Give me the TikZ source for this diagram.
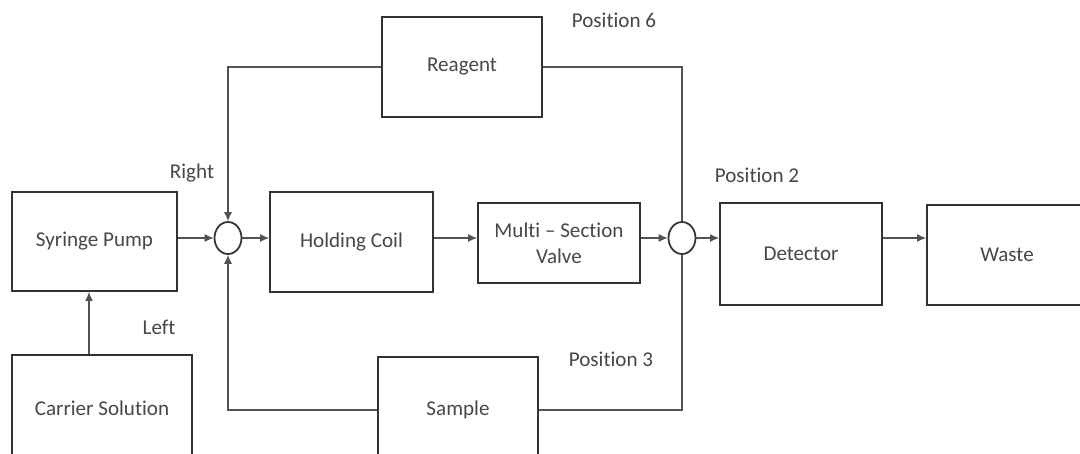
\documentclass[tikz,border=0pt]{standalone}
\usepackage{fontspec}
\setmainfont{Carlito}[Ligatures={NoCommon}]
\usetikzlibrary{arrows.meta,shapes.geometric,positioning}
\definecolor{linegray}{HTML}{333333}
\definecolor{textgray}{HTML}{474747}

\begin{document}
\begin{tikzpicture}[
    >={Latex[length=1.8mm,width=1.6mm]},
    box/.style={draw=linegray, line width=1.1pt, minimum width=3.2cm,
      minimum height=2cm, align=center, text=textgray,
      font=\fontsize{12}{15}\selectfont},
    junction/.style={draw=linegray, ellipse, line width=1pt,
      minimum width=0.54cm, minimum height=0.64cm, inner sep=0pt},
    pipe/.style={draw=linegray!85, line width=0.6pt},
    lbl/.style={text=textgray, font=\fontsize{12}{15}\selectfont}
  ]
%  \draw[help lines] (0,0) grid (22,-9);
  \useasboundingbox (0,0) rectangle (21.6,-9.06);

  % units
  \node[box, minimum width=3.3cm, minimum height=1.98cm] (pump)    at (1.89,-4.83)  {Syringe Pump};
  \node[box, minimum width=3.6cm, minimum height=2.12cm] (carrier) at (2.04,-8.16)  {Carrier Solution};
  \node[box]                                             (reagent) at (9.24,-1.34)  {Reagent};
  \node[box, minimum width=3.26cm]                       (coil)    at (7.03,-4.84)  {Holding Coil};
  \node[box, minimum width=3.24cm, minimum height=1.6cm] (valve)   at (11.18,-4.86) {Multi – Section\\Valve};
  \node[box, minimum width=3.24cm, minimum height=2.04cm] (det)    at (16.02,-5.08) {Detector};
  \node[box]                                             (waste)   at (20.14,-5.1)  {Waste};
  \node[box, minimum height=2.12cm]                      (sample)  at (9.16,-8.2)   {Sample};

  % mixing points
  \node[junction] (mix1) at (4.56,-4.76) {};
  \node[junction] (mix2) at (13.64,-4.76) {};

  \node[lbl] (right) at (3.84,-3.46)  {Right};
  \node[lbl] (left)  at (3.18,-6.54)  {Left};
  \node[lbl] (pos6)  at (12.28,-0.4)  {Position 6};
  \node[lbl] (pos2)  at (15.14,-3.5)  {Position 2};
  \node[lbl] (pos3)  at (12.22,-7.18) {Position 3};

  % main line
  \draw[pipe,->] (pump.east |- mix1) -- (mix1.west);
  \draw[pipe,->] (mix1.east) -- (mix1 -| coil.west);
  \draw[pipe,->] (coil.east |- mix1) -- (mix1 -| valve.west);
  \draw[pipe,->] (valve.east |- mix2) -- (mix2.west);
  \draw[pipe,->] (mix2.east) -- (mix2 -| det.west);
  \draw[pipe,->] (det.east |- mix2) -- (mix2 -| waste.west);

  \draw[pipe,->] ([xshift=-2.6mm]carrier.north) -- ([xshift=-2.6mm]carrier.north |- pump.south);

  % reagent and sample loops
  \draw[pipe,->] (reagent.west) -| (mix1.north);
  \draw[pipe]    (reagent.east) -| (mix2.north);
  \draw[pipe,->] (sample.west)  -| (mix1.south);
  \draw[pipe]    (sample.east)  -| (mix2.south);
\end{tikzpicture}
\end{document}
